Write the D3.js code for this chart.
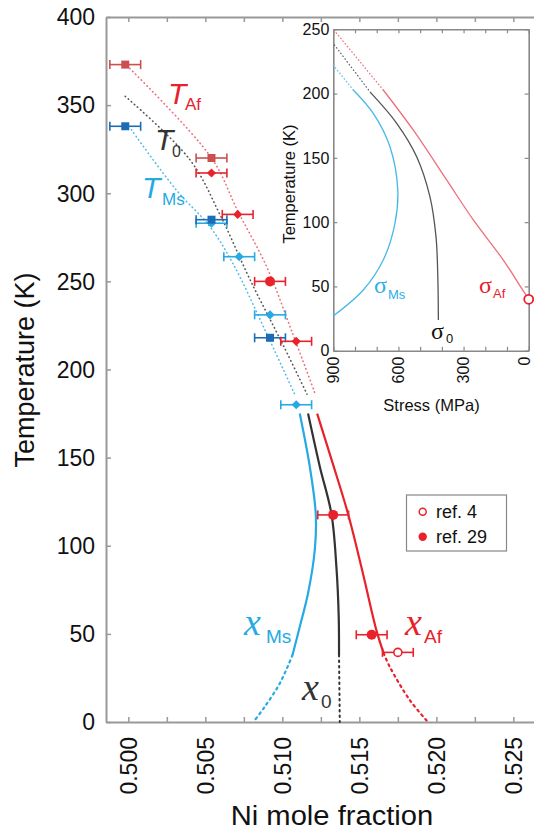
<!DOCTYPE html>
<html><head><meta charset="utf-8">
<script src="https://cdn.jsdelivr.net/npm/d3@7"></script>
<style>
body{margin:0;background:#fff}
svg{display:block;font-family:"Liberation Sans",Arial,sans-serif}
</style>
</head><body>
<svg id="c" width="534" height="832"></svg>
<script>
// ---------------- DATA ----------------
const niMajorTicks = [0.500, 0.505, 0.510, 0.515, 0.520, 0.525];
const niMinorTicks = [0.5025, 0.5075, 0.5125, 0.5175, 0.5225];
const tempTicks = [0, 50, 100, 150, 200, 250, 300, 350, 400];

// measured transformation temperatures [Ni, T]
const tafSquares  = [[0.4998, 373], [0.5054, 320]];
const tafDiamonds = [[0.5054, 311.5], [0.5071, 288], [0.5109, 216]];
const tafCircles  = [[0.5092, 250]];
const tmsSquares  = [[0.4998, 338], [0.5054, 285], [0.5092, 218]];
const tmsDiamonds = [[0.5054, 283], [0.5072, 264], [0.5092, 231], [0.5109, 180]];
const ref29 = [[0.5133, 117.5], [0.5158, 49.5]];
const ref4  = [[0.5175, 39.5]];
const niError = 0.001;

// dotted T-lines [Ni, T]
const tafDotted = [[0.4999, 372.5], [0.5054, 320], [0.5071, 290], [0.5090, 258], [0.5106, 222], [0.5121, 187]];
const t0Dotted  = [[0.4998, 355], [0.5040, 319], [0.5060, 287], [0.5079, 251], [0.5101, 213], [0.5116, 186]];
const tmsDotted = [[0.5002, 336], [0.5031, 302], [0.5053, 281], [0.5068, 260], [0.5090, 220], [0.5108, 186]];

// composition curves [Ni, T]
const xMsSolid  = [[0.51113, 175], [0.51178, 145], [0.51217, 118], [0.51211, 98], [0.51167, 73], [0.51113, 54], [0.51066, 38]];
const xMsDotted = [[0.51066, 38], [0.50984, 22], [0.50886, 8.7], [0.50812, 0]];
const x0Solid   = [[0.51167, 175], [0.51243, 145], [0.51319, 118], [0.51351, 88], [0.51366, 60], [0.51368, 38]];
const x0Dotted  = [[0.51368, 38], [0.51373, 0]];
const xAfSolid  = [[0.51226, 175], [0.51319, 149], [0.51427, 118], [0.51524, 84], [0.51611, 52], [0.51658, 39]];
const xAfDotted = [[0.51658, 39], [0.51697, 31.4], [0.51827, 12.5], [0.51945, 0]];

// inset: stress (MPa) vs temperature (K)
const stressLabelTicks = [900, 600, 300, 0];
const stressTicks = [900, 800, 700, 600, 500, 400, 300, 200, 100, 0];
const insetTempTicks = [0, 50, 100, 150, 200, 250];
const sMsSolid  = [[808, 202.8], [716, 184.6], [639, 158.7], [603, 125], [616, 99.1], [670, 70.5], [762, 47.2], [900, 27]];
const sMsDotted = [[808, 202.8], [900, 222]];
const s0Solid   = [[728, 200.7], [608, 176.9], [516, 150.9], [455, 119.8], [427, 88.7], [419, 60.2], [416, 23.9]];
const s0Dotted  = [[728, 200.7], [900, 239]];
const sAfSolid  = [[670, 202.8], [532, 171.7], [378, 132.8], [255, 101.7], [117, 70.5], [17, 44.6], [0, 40.8]];
const sAfDotted = [[670, 202.8], [900, 250]];
const sAfRef    = [[0, 40]];

// ---------------- COLOURS ----------------
const RED = "#e8212b", RED_DARK = "#c9504f", RED_LIGHT = "#ee6f7c";
const BLUE = "#25aae4", BLUE_DARK = "#1c6db5";
const GRAY = "#333333", AX = "#999999";

const svg = d3.select("#c");

// ---------------- MAIN SCALES ----------------
const L = 106, R = 540, T = 17, B = 722;
const x = d3.scaleLinear().domain([0.49855, 0.52673]).range([L, R]);
const y = d3.scaleLinear().domain([0, 400]).range([B, T]);

// axes
const allNi = niMajorTicks.concat(niMinorTicks);
const gx = svg.append("g").attr("transform", `translate(0,${B})`)
  .call(d3.axisBottom(x).tickValues(allNi).tickSizeInner(-5).tickSizeOuter(0).tickFormat(""));
const gxt = svg.append("g").attr("transform", `translate(0,${T})`)
  .call(d3.axisTop(x).tickValues(allNi).tickSizeInner(-5).tickSizeOuter(0).tickFormat(""));
const gy = svg.append("g").attr("transform", `translate(${L},0)`)
  .call(d3.axisLeft(y).tickValues(tempTicks).tickSizeInner(-5).tickSizeOuter(0).tickFormat(""));
[gx, gxt, gy].forEach(g => {
  g.select(".domain").attr("stroke", AX).attr("stroke-width", 2);
  g.selectAll(".tick line").attr("stroke", AX).attr("stroke-width", 1.5);
});

// tick labels
svg.append("g").selectAll("text").data(niMajorTicks).join("text")
  .attr("transform", d => `translate(${x(d)},${B + 15}) rotate(-90)`)
  .attr("text-anchor", "end").attr("dy", "0.36em")
  .attr("font-size", 23).attr("fill", "#111")
  .text(d => d3.format(".3f")(d));
svg.append("g").selectAll("text").data(tempTicks).join("text")
  .attr("x", L - 11).attr("y", d => y(d)).attr("dy", "0.36em")
  .attr("text-anchor", "end").attr("font-size", 23).attr("fill", "#111")
  .text(d => d);

// titles
svg.append("text").attr("transform", `translate(34,370) rotate(-90)`)
  .attr("text-anchor", "middle").attr("font-size", 27).attr("fill", "#111")
  .text("Temperature (K)");
svg.append("text").attr("x", 332).attr("y", 825)
  .attr("text-anchor", "middle").attr("font-size", 27).attr("fill", "#111")
  .attr("transform", "translate(332,0) scale(1.08,1) translate(-332,0)")
  .text("Ni mole fraction");

// ---------------- CURVES ----------------
const line = d3.line().x(d => x(d[0])).y(d => y(d[1])).curve(d3.curveCatmullRom.alpha(0.5));
function path(data, color, width, dash) {
  svg.append("path").datum(data).attr("d", line)
    .attr("fill", "none").attr("stroke", color).attr("stroke-width", width)
    .attr("stroke-dasharray", dash || null).attr("stroke-linecap", dash ? "round" : "butt");
}
path(tafDotted, RED_LIGHT, 1.6, "0.5,3.6");
path(t0Dotted, "#555", 1.6, "0.5,3.6");
path(tmsDotted, "#4cbbe9", 1.6, "0.5,3.6");

path(xMsSolid, BLUE, 2.2);
path(x0Solid, GRAY, 2.2);
path(xAfSolid, RED, 2.2);
path(xMsDotted, BLUE, 2.2, "2,4");
path(x0Dotted, GRAY, 2, "1.5,4");
path(xAfDotted, RED, 2.2, "2,4");

// ---------------- POINTS ----------------
function errorBars(data, color) {
  const g = svg.append("g").attr("stroke", color).attr("stroke-width", 1.6);
  data.forEach(d => {
    const cy = y(d[1]);
    g.append("line").attr("x1", x(d[0] - niError)).attr("x2", x(d[0] + niError)).attr("y1", cy).attr("y2", cy);
    g.append("line").attr("x1", x(d[0] - niError)).attr("x2", x(d[0] - niError)).attr("y1", cy - 4.5).attr("y2", cy + 4.5);
    g.append("line").attr("x1", x(d[0] + niError)).attr("x2", x(d[0] + niError)).attr("y1", cy - 4.5).attr("y2", cy + 4.5);
  });
}
const sq = d3.symbol(d3.symbolSquare, 64)();
const dia = d3.symbol(d3.symbolSquare, 42)();
function squares(data, color) {
  errorBars(data, color);
  svg.append("g").selectAll("path").data(data).join("path")
    .attr("d", sq).attr("fill", color)
    .attr("transform", d => `translate(${x(d[0])},${y(d[1])})`);
}
function diamonds(data, color) {
  errorBars(data, color);
  svg.append("g").selectAll("path").data(data).join("path")
    .attr("d", dia).attr("fill", color)
    .attr("transform", d => `translate(${x(d[0])},${y(d[1])}) rotate(45)`);
}
function circles(data, color, r, open) {
  errorBars(data, color);
  svg.append("g").selectAll("circle").data(data).join("circle")
    .attr("cx", d => x(d[0])).attr("cy", d => y(d[1])).attr("r", r)
    .attr("fill", open ? "#fff" : color).attr("stroke", color).attr("stroke-width", open ? 1.6 : 0);
}
diamonds(tmsDiamonds, BLUE);
squares(tmsSquares, BLUE_DARK);
squares(tafSquares, RED_DARK);
diamonds(tafDiamonds, RED);
circles(tafCircles, RED, 5);
circles(ref29, RED, 5);
circles(ref4, RED, 4, true);

// ---------------- LABELS ----------------
function lab(txt, sub, px, py, color, size, subSize, subDx, subDy, italic, serif) {
  svg.append("text").attr("x", px).attr("y", py).attr("fill", color)
    .attr("font-size", size).attr("font-style", italic ? "italic" : null)
    .attr("font-family", serif ? "'Liberation Serif','Times New Roman',serif" : null).text(txt);
  svg.append("text").attr("x", px + subDx).attr("y", py + subDy).attr("fill", color)
    .attr("font-size", subSize).text(sub);
}
lab("T", "Af", 168, 104, RED, 30, 17, 17, 6, true);
lab("T", "0", 155, 150, GRAY, 30, 16, 17, 7, true);
lab("T", "Ms", 142, 198, BLUE, 30, 17, 20, 7, true);

lab("x", "Ms", 244, 635, BLUE, 38, 19, 22, 8, true, true);
lab("x", "Af", 405, 635, RED, 38, 19, 19, 8, true, true);
lab("x", "0", 302, 700, GRAY, 38, 19, 19, 8, true, true);

// legend
svg.append("rect").attr("x", 406.5).attr("y", 495).attr("width", 100).attr("height", 56)
  .attr("fill", "#fff").attr("stroke", "#888").attr("stroke-width", 1.2);
svg.append("circle").attr("cx", 422.7).attr("cy", 511.7).attr("r", 3.5)
  .attr("fill", "#fff").attr("stroke", RED).attr("stroke-width", 1.5);
svg.append("circle").attr("cx", 422.7).attr("cy", 536.7).attr("r", 4.2).attr("fill", RED);
svg.append("text").attr("x", 436).attr("y", 511.7).attr("dy", "0.36em").attr("font-size", 18).attr("fill", "#111").text("ref. 4");
svg.append("text").attr("x", 436).attr("y", 536.7).attr("dy", "0.36em").attr("font-size", 18).attr("fill", "#111").text("ref. 29");

// ---------------- INSET ----------------
const iL = 333.3, iR = 528.7, iT = 29.3, iB = 350.7;
const xs = d3.scaleLinear().domain([900, 0]).range([iL, iR]);
const ys = d3.scaleLinear().domain([0, 250]).range([iB, iT]);
svg.append("rect").attr("x", iL).attr("y", iT).attr("width", iR - iL).attr("height", iB - iT)
  .attr("fill", "#fff");
const ia = [
  svg.append("g").attr("transform", `translate(0,${iB})`).call(d3.axisBottom(xs).tickValues(stressTicks).tickSizeInner(-4).tickSizeOuter(0).tickFormat("")),
  svg.append("g").attr("transform", `translate(0,${iT})`).call(d3.axisTop(xs).tickValues(stressTicks).tickSizeInner(-4).tickSizeOuter(0).tickFormat("")),
  svg.append("g").attr("transform", `translate(${iL},0)`).call(d3.axisLeft(ys).tickValues(insetTempTicks).tickSizeInner(-4).tickSizeOuter(0).tickFormat("")),
  svg.append("g").attr("transform", `translate(${iR},0)`).call(d3.axisRight(ys).tickValues(insetTempTicks).tickSizeInner(-4).tickSizeOuter(0).tickFormat(""))
];
ia.forEach(g => {
  g.select(".domain").attr("stroke", "#888").attr("stroke-width", 1.6);
  g.selectAll(".tick line").attr("stroke", "#888").attr("stroke-width", 1.2);
});
svg.append("g").selectAll("text").data(insetTempTicks).join("text")
  .attr("x", iL - 4).attr("y", d => ys(d)).attr("dy", "0.36em")
  .attr("text-anchor", "end").attr("font-size", 16).attr("fill", "#111").text(d => d);
svg.append("g").selectAll("text").data(stressLabelTicks).join("text")
  .attr("transform", d => `translate(${Math.min(xs(d), 524)},${iB + 6}) rotate(-90)`)
  .attr("text-anchor", "end").attr("dy", "0.36em").attr("font-size", 16).attr("fill", "#111").text(d => d);
svg.append("text").attr("transform", `translate(295,184) rotate(-90)`)
  .attr("text-anchor", "middle").attr("font-size", 16.5).attr("fill", "#111").text("Temperature (K)");
svg.append("text").attr("x", 431.5).attr("y", 411).attr("text-anchor", "middle")
  .attr("font-size", 16.5).attr("fill", "#111").text("Stress (MPa)");

const iline = d3.line().x(d => xs(d[0])).y(d => ys(d[1])).curve(d3.curveCatmullRom.alpha(0.5));
function ipath(data, color, width, dash) {
  svg.append("path").datum(data).attr("d", iline)
    .attr("fill", "none").attr("stroke", color).attr("stroke-width", width)
    .attr("stroke-dasharray", dash || null).attr("stroke-linecap", dash ? "round" : "butt");
}
ipath(sMsDotted, "#55c0ea", 1.3, "0.5,3");
ipath(s0Dotted, "#666", 1.3, "0.5,3");
ipath(sAfDotted, RED_LIGHT, 1.3, "0.5,3");
ipath(sMsSolid, "#45b8e8", 1.3);
ipath(s0Solid, "#555", 1.3);
ipath(sAfSolid, RED_LIGHT, 1.3);
svg.append("g").selectAll("circle").data(sAfRef).join("circle")
  .attr("cx", d => xs(d[0])).attr("cy", d => ys(d[1])).attr("r", 4.5)
  .attr("fill", "#fff").attr("stroke", RED).attr("stroke-width", 1.8);

function ilab(sub, px, py, color, subDx, subDy) {
  svg.append("text").attr("x", px).attr("y", py).attr("fill", color)
    .attr("font-size", 24).attr("font-family", "'Liberation Serif',serif").text("σ");
  svg.append("text").attr("x", px + subDx).attr("y", py + subDy).attr("fill", color)
    .attr("font-size", 13).text(sub);
}
ilab("Ms", 374, 293, "#2eaee6", 14, 6);
ilab("0", 431, 339, "#111", 15, 4);
ilab("Af", 479, 293, RED, 14, 5);
</script>
</body></html>
